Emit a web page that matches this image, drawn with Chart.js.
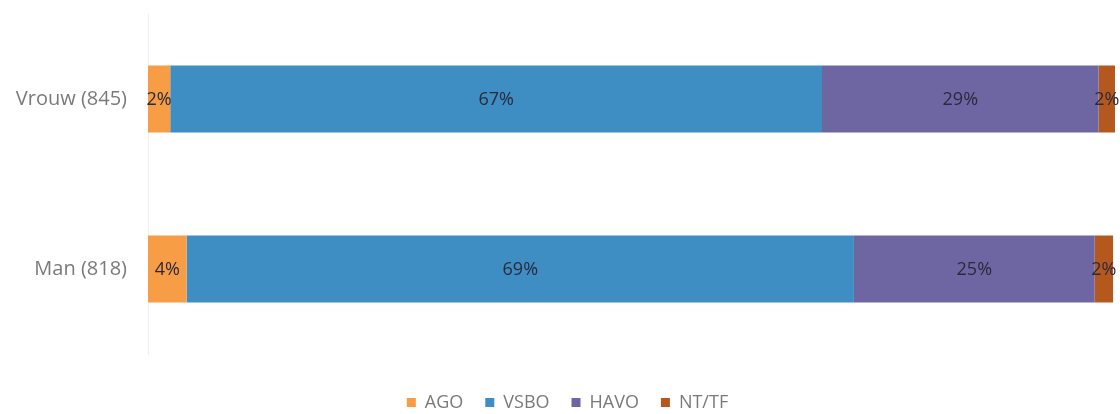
<!DOCTYPE html>
<html>
<head>
<meta charset="utf-8">
<script src="https://cdn.jsdelivr.net/npm/chart.js@4/dist/chart.umd.min.js"></script>
<style>
html,body{margin:0;padding:0;background:#fff;}
#wrap{width:1120px;height:414px;position:relative;}
</style>
</head>
<body>
<div id="wrap"><canvas id="c" width="1120" height="414"></canvas></div>
<script>
const categories = ['Vrouw (845)', 'Man (818)'];
const seriesNames = ['AGO', 'VSBO', 'HAVO', 'NT/TF'];
const AGO = [2.3, 4.0];
const VSBO = [67.4, 69.0];
const HAVO = [28.6, 24.9];
const NTTF = [1.7, 1.9];
const seriesColors = ['#F79D45', '#3E8DC3', '#6E65A3', '#B5581E'];

const FONT = '"Open Sans", Lato, sans-serif';

const labelPlugin = {
  id: 'segLabels',
  afterLayout(chart) {
    if (chart.legend) {
      chart.legend.left += 10;
      chart.legend.right += 10;
    }
  },
  afterDatasetsDraw(chart) {
    const ctx = chart.ctx;
    ctx.save();
    ctx.font = '18px ' + FONT;
    ctx.fillStyle = '#2a2a3c';
    ctx.textAlign = 'center';
    ctx.textBaseline = 'middle';
    chart.data.datasets.forEach((ds, di) => {
      const meta = chart.getDatasetMeta(di);
      meta.data.forEach((bar, i) => {
        const v = ds.data[i];
        const cx = (bar.x + bar.base) / 2;
        ctx.fillText(Math.round(v) + '%', cx, bar.y + 1);
      });
    });
    ctx.restore();
  }
};

const dataArrays = [AGO, VSBO, HAVO, NTTF];
new Chart(document.getElementById('c'), {
  type: 'bar',
  data: {
    labels: categories,
    datasets: seriesNames.map((n, i) => ({
      label: n,
      data: dataArrays[i],
      backgroundColor: seriesColors[i],
      borderWidth: 0,
      barPercentage: 0.393,
      categoryPercentage: 1.0
    }))
  },
  options: {
    indexAxis: 'y',
    responsive: false,
    animation: false,
    layout: { padding: { top: 14, right: 5, left: 0, bottom: -7.5 } },
    scales: {
      x: {
        stacked: true, min: 0, max: 100, display: false
      },
      y: {
        stacked: true,
        grid: { display: false, drawTicks: false },
        border: { display: true, color: '#efefef', width: 1 },
        ticks: {
          color: '#7a7a7a',
          font: { family: FONT, size: 20 },
          padding: 21
        },
        afterFit(scale) {
          scale.width = 148;
          scale.paddingTop = 0;
          scale.paddingBottom = 0;
        }
      }
    },
    plugins: {
      tooltip: { enabled: false },
      legend: {
        position: 'bottom',
        title: { display: true, text: ' ', font: { size: 10, lineHeight: 1 }, padding: { top: 0, bottom: 7.5 } },
        labels: {
          boxWidth: 9,
          boxHeight: 9,
          padding: 22,
          color: '#7a7a7a',
          font: { family: FONT, size: 18 }
        }
      }
    }
  },
  plugins: [labelPlugin]
});
</script>
</body>
</html>
